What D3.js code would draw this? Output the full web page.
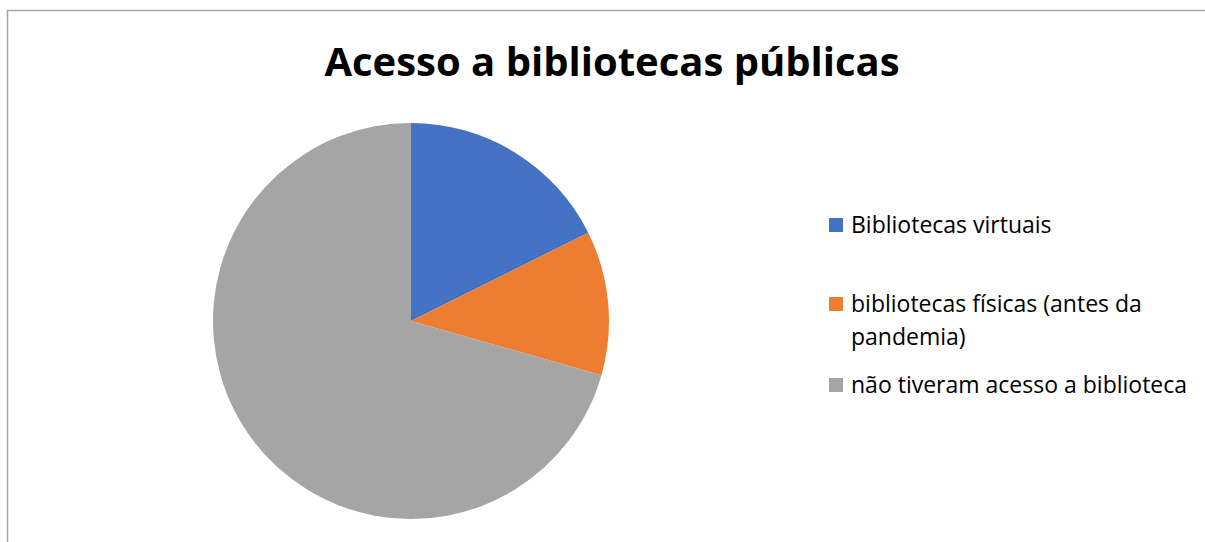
<!DOCTYPE html>
<html>
<head>
<meta charset="utf-8">
<script src="https://cdn.jsdelivr.net/npm/d3@7"></script>
<style>
  body { margin: 0; background: #fff; }
  svg { display: block; }
</style>
</head>
<body>
<svg id="chart" width="1205" height="542"></svg>
<script>
// data
const title = "Acesso a bibliotecas públicas";
const categories = ["Bibliotecas virtuais", "bibliotecas físicas (antes da pandemia)", "não tiveram acesso a biblioteca"];
const legendLines = [["Bibliotecas virtuais"], ["bibliotecas físicas (antes da", "pandemia)"], ["não tiveram acesso a biblioteca"]];
const values = [6, 4, 24];
const colors = ["#4472C4", "#ED7D31", "#A5A5A5"];

const svg = d3.select("#chart");

// chart frame (right/bottom edges fall outside the picture)
svg.append("rect")
  .attr("x", 7.5).attr("y", 10.5)
  .attr("width", 1300).attr("height", 600)
  .attr("fill", "#fff")
  .attr("stroke", "#a6a6a6")
  .attr("stroke-width", 1.5);

svg.append("text")
  .attr("x", 612)
  .attr("y", 76)
  .attr("text-anchor", "middle")
  .attr("font-family", "Open Sans, sans-serif")
  .attr("font-weight", "bold")
  .attr("font-size", "40px")
  .attr("fill", "#000")
  .text(title);

const cx = 411, cy = 321, radius = 198;
const pie = d3.pie().sort(null).value(d => d);
const arc = d3.arc().innerRadius(0).outerRadius(radius);

svg.append("g")
  .attr("transform", `translate(${cx},${cy})`)
  .selectAll("path")
  .data(pie(values))
  .enter()
  .append("path")
  .attr("d", arc)
  .attr("fill", (d, i) => colors[i]);

// legend
const legendX = 829, size = 14;
const baseY = [233, 312, 393];  // baseline of first line of each entry
const lineH = 33;

const legend = svg.append("g");
categories.forEach((c, i) => {
  legend.append("rect")
    .attr("x", legendX)
    .attr("y", baseY[i] - size - 1)
    .attr("width", size)
    .attr("height", size)
    .attr("fill", colors[i]);
  legendLines[i].forEach((line, j) => {
    legend.append("text")
      .attr("x", legendX + 22)
      .attr("y", baseY[i] + j * lineH)
      .attr("font-family", "Open Sans, sans-serif")
      .attr("font-size", "23px")
      .attr("fill", "#000")
      .text(line);
  });
});
</script>
</body>
</html>
